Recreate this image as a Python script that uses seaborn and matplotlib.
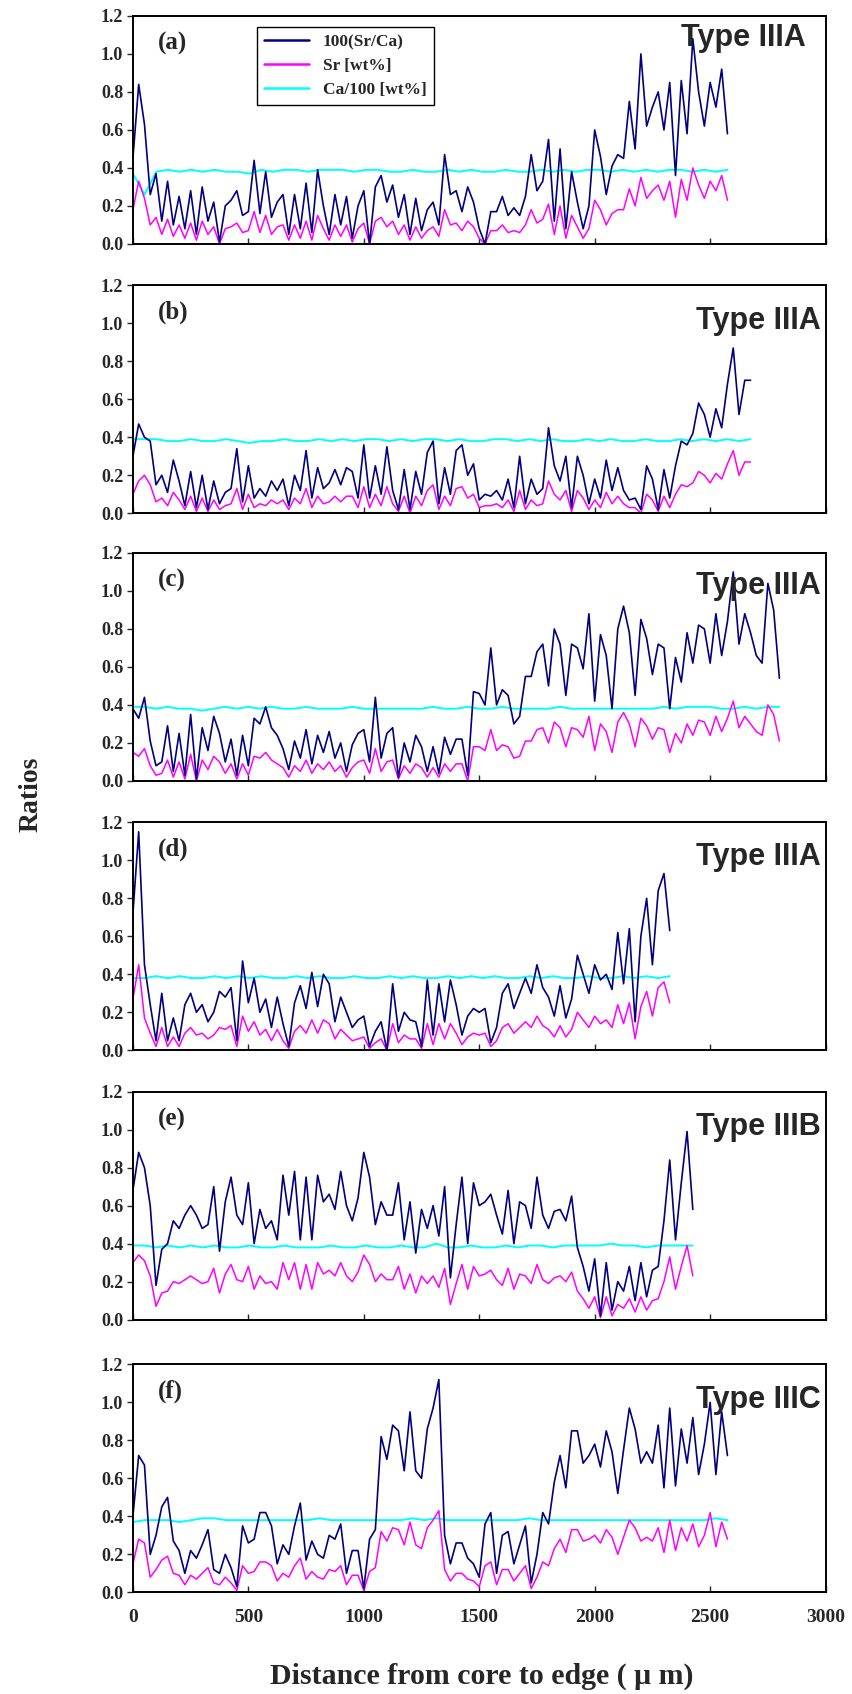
import numpy as np
import matplotlib
matplotlib.use("Agg")
import matplotlib.pyplot as plt
import seaborn as sns

# =========================
# Data, spacing in micrometres
# =========================
step = 25      # spacing of the Sr/Ca and Sr profiles
ca_step = 50   # spacing of the Ca profile

ratio_a = [0.45, 0.84, 0.63, 0.26, 0.37, 0.12, 0.33, 0.10, 0.25, 0.08,
           0.28, 0.05, 0.30, 0.12, 0.22, 0.01, 0.20, 0.23, 0.28, 0.15,
           0.17, 0.44, 0.16, 0.38, 0.14, 0.22, 0.26, 0.05, 0.26, 0.08,
           0.32, 0.06, 0.39, 0.20, 0.05, 0.26, 0.10, 0.25, 0.03, 0.20,
           0.28, 0.00, 0.30, 0.36, 0.22, 0.31, 0.14, 0.26, 0.05, 0.24,
           0.07, 0.18, 0.22, 0.10, 0.47, 0.26, 0.28, 0.17, 0.30, 0.22,
           0.08, 0.00, 0.17, 0.17, 0.25, 0.15, 0.19, 0.15, 0.25, 0.47,
           0.28, 0.33, 0.55, 0.12, 0.50, 0.08, 0.38, 0.22, 0.08, 0.20,
           0.60, 0.46, 0.26, 0.41, 0.47, 0.45, 0.75, 0.50, 1.00, 0.62,
           0.72, 0.80, 0.60, 0.85, 0.36, 0.86, 0.58, 1.08, 0.80, 0.62,
           0.85, 0.72, 0.92, 0.58]
sr_a = [0.18, 0.33, 0.24, 0.10, 0.14, 0.05, 0.13, 0.04, 0.10, 0.03,
        0.11, 0.02, 0.12, 0.05, 0.09, 0.00, 0.08, 0.09, 0.11, 0.06,
        0.07, 0.17, 0.06, 0.15, 0.05, 0.09, 0.10, 0.02, 0.10, 0.03,
        0.12, 0.02, 0.15, 0.08, 0.02, 0.10, 0.04, 0.10, 0.01, 0.08,
        0.11, 0.00, 0.12, 0.14, 0.09, 0.12, 0.05, 0.10, 0.02, 0.09,
        0.03, 0.07, 0.09, 0.04, 0.18, 0.10, 0.11, 0.07, 0.12, 0.09,
        0.03, 0.00, 0.07, 0.07, 0.10, 0.06, 0.07, 0.06, 0.10, 0.18,
        0.11, 0.13, 0.21, 0.05, 0.20, 0.03, 0.15, 0.09, 0.03, 0.08,
        0.23, 0.18, 0.10, 0.16, 0.18, 0.18, 0.29, 0.20, 0.35, 0.24,
        0.28, 0.31, 0.23, 0.33, 0.14, 0.34, 0.23, 0.40, 0.31, 0.24,
        0.33, 0.28, 0.36, 0.23]
ca_a = [0.37, 0.26, 0.38, 0.39, 0.38, 0.39, 0.38, 0.39, 0.38, 0.38,
        0.37, 0.39, 0.38, 0.39, 0.39, 0.38, 0.39, 0.39, 0.39, 0.38,
        0.39, 0.39, 0.38, 0.38, 0.39, 0.38, 0.38, 0.39, 0.38, 0.39,
        0.38, 0.38, 0.39, 0.38, 0.38, 0.39, 0.38, 0.39, 0.38, 0.39,
        0.39, 0.38, 0.39, 0.38, 0.39, 0.38, 0.39, 0.39, 0.38, 0.39,
        0.38, 0.39]

ratio_b = [0.30, 0.47, 0.40, 0.38, 0.15, 0.20, 0.11, 0.28, 0.17, 0.04,
           0.22, 0.03, 0.20, 0.02, 0.17, 0.05, 0.11, 0.13, 0.34, 0.06,
           0.25, 0.08, 0.13, 0.09, 0.17, 0.12, 0.18, 0.04, 0.20, 0.12,
           0.33, 0.08, 0.24, 0.13, 0.16, 0.23, 0.15, 0.24, 0.22, 0.08,
           0.36, 0.08, 0.25, 0.10, 0.35, 0.12, 0.02, 0.23, 0.02, 0.22,
           0.10, 0.32, 0.38, 0.05, 0.24, 0.10, 0.33, 0.36, 0.20, 0.26,
           0.07, 0.10, 0.09, 0.12, 0.07, 0.18, 0.03, 0.30, 0.05, 0.18,
           0.10, 0.13, 0.45, 0.25, 0.17, 0.30, 0.03, 0.30, 0.20, 0.05,
           0.18, 0.08, 0.28, 0.12, 0.24, 0.12, 0.07, 0.08, 0.02, 0.25,
           0.18, 0.02, 0.23, 0.08, 0.25, 0.38, 0.36, 0.42, 0.58, 0.52,
           0.40, 0.55, 0.45, 0.68, 0.87, 0.52, 0.70, 0.70]
sr_b = [0.10, 0.17, 0.20, 0.15, 0.06, 0.08, 0.04, 0.11, 0.07, 0.02,
        0.09, 0.01, 0.08, 0.01, 0.07, 0.02, 0.04, 0.05, 0.13, 0.02,
        0.10, 0.03, 0.05, 0.04, 0.07, 0.05, 0.07, 0.02, 0.08, 0.05,
        0.13, 0.03, 0.09, 0.05, 0.06, 0.09, 0.06, 0.09, 0.09, 0.03,
        0.14, 0.03, 0.10, 0.04, 0.14, 0.05, 0.01, 0.09, 0.00, 0.09,
        0.04, 0.12, 0.15, 0.02, 0.09, 0.04, 0.13, 0.14, 0.08, 0.10,
        0.03, 0.04, 0.04, 0.05, 0.03, 0.07, 0.01, 0.12, 0.02, 0.07,
        0.04, 0.05, 0.17, 0.10, 0.07, 0.12, 0.01, 0.12, 0.08, 0.02,
        0.07, 0.03, 0.11, 0.05, 0.09, 0.05, 0.03, 0.03, 0.00, 0.10,
        0.07, 0.01, 0.09, 0.03, 0.10, 0.15, 0.14, 0.16, 0.22, 0.20,
        0.16, 0.21, 0.18, 0.26, 0.33, 0.20, 0.27, 0.27]
ca_b = [0.39, 0.39, 0.39, 0.38, 0.38, 0.39, 0.38, 0.38, 0.39, 0.38,
        0.37, 0.38, 0.38, 0.39, 0.38, 0.38, 0.39, 0.38, 0.39, 0.38,
        0.39, 0.39, 0.38, 0.39, 0.38, 0.39, 0.39, 0.38, 0.39, 0.38,
        0.38, 0.39, 0.39, 0.38, 0.39, 0.38, 0.39, 0.38, 0.38, 0.39,
        0.38, 0.39, 0.38, 0.38, 0.39, 0.38, 0.38, 0.39, 0.38, 0.39,
        0.38, 0.39, 0.38, 0.39]

ratio_c = [0.38, 0.33, 0.44, 0.21, 0.08, 0.10, 0.29, 0.05, 0.25, 0.03,
           0.35, 0.01, 0.28, 0.16, 0.34, 0.25, 0.10, 0.22, 0.03, 0.24,
           0.08, 0.33, 0.30, 0.39, 0.28, 0.24, 0.17, 0.06, 0.21, 0.12,
           0.27, 0.09, 0.24, 0.15, 0.26, 0.12, 0.20, 0.05, 0.19, 0.25,
           0.27, 0.10, 0.44, 0.12, 0.25, 0.28, 0.02, 0.20, 0.10, 0.24,
           0.18, 0.05, 0.18, 0.04, 0.23, 0.14, 0.22, 0.22, 0.03, 0.47,
           0.46, 0.40, 0.70, 0.40, 0.48, 0.45, 0.30, 0.34, 0.55, 0.55,
           0.68, 0.72, 0.50, 0.80, 0.72, 0.45, 0.72, 0.70, 0.59, 0.88,
           0.42, 0.77, 0.66, 0.38, 0.80, 0.92, 0.78, 0.45, 0.85, 0.75,
           0.56, 0.72, 0.70, 0.38, 0.65, 0.52, 0.78, 0.62, 0.82, 0.80,
           0.62, 0.88, 0.66, 0.84, 1.10, 0.72, 0.88, 0.78, 0.66, 0.62,
           1.04, 0.90, 0.54]
sr_c = [0.15, 0.13, 0.17, 0.08, 0.03, 0.04, 0.11, 0.02, 0.10, 0.01,
        0.14, 0.00, 0.11, 0.06, 0.13, 0.10, 0.04, 0.09, 0.01, 0.09,
        0.03, 0.13, 0.12, 0.15, 0.11, 0.09, 0.07, 0.02, 0.08, 0.05,
        0.11, 0.04, 0.09, 0.06, 0.10, 0.05, 0.08, 0.02, 0.07, 0.10,
        0.11, 0.04, 0.17, 0.05, 0.10, 0.11, 0.01, 0.08, 0.04, 0.09,
        0.07, 0.02, 0.07, 0.02, 0.09, 0.05, 0.09, 0.09, 0.00, 0.18,
        0.18, 0.16, 0.27, 0.16, 0.19, 0.18, 0.12, 0.13, 0.21, 0.21,
        0.27, 0.28, 0.20, 0.31, 0.28, 0.18, 0.28, 0.27, 0.23, 0.34,
        0.16, 0.30, 0.26, 0.15, 0.31, 0.36, 0.30, 0.18, 0.33, 0.29,
        0.22, 0.28, 0.27, 0.15, 0.25, 0.20, 0.30, 0.24, 0.32, 0.31,
        0.24, 0.34, 0.26, 0.33, 0.42, 0.28, 0.34, 0.30, 0.26, 0.24,
        0.40, 0.35, 0.21]
ca_c = [0.39, 0.39, 0.38, 0.39, 0.38, 0.38, 0.37, 0.38, 0.39, 0.38,
        0.39, 0.38, 0.39, 0.38, 0.38, 0.39, 0.38, 0.38, 0.38, 0.39,
        0.38, 0.38, 0.38, 0.38, 0.38, 0.38, 0.39, 0.38, 0.38, 0.39,
        0.38, 0.38, 0.39, 0.38, 0.38, 0.38, 0.38, 0.39, 0.38, 0.38,
        0.38, 0.38, 0.38, 0.38, 0.38, 0.38, 0.39, 0.38, 0.39, 0.39,
        0.39, 0.38, 0.38, 0.39, 0.38, 0.39, 0.39]

ratio_d = [0.72, 1.15, 0.45, 0.24, 0.05, 0.30, 0.05, 0.17, 0.05, 0.24,
           0.30, 0.20, 0.24, 0.15, 0.20, 0.31, 0.28, 0.33, 0.05, 0.47,
           0.25, 0.38, 0.20, 0.27, 0.12, 0.28, 0.14, 0.02, 0.25, 0.34,
           0.22, 0.41, 0.23, 0.40, 0.35, 0.15, 0.28, 0.20, 0.12, 0.16,
           0.18, 0.02, 0.10, 0.15, 0.00, 0.35, 0.10, 0.20, 0.16, 0.15,
           0.02, 0.37, 0.08, 0.35, 0.15, 0.37, 0.24, 0.08, 0.18, 0.22,
           0.20, 0.22, 0.04, 0.12, 0.30, 0.35, 0.22, 0.30, 0.38, 0.30,
           0.45, 0.33, 0.28, 0.18, 0.34, 0.17, 0.27, 0.50, 0.40, 0.30,
           0.45, 0.37, 0.40, 0.32, 0.62, 0.35, 0.64, 0.15, 0.60, 0.80,
           0.45, 0.84, 0.93, 0.63]
sr_d = [0.27, 0.45, 0.17, 0.09, 0.02, 0.12, 0.02, 0.07, 0.02, 0.09,
        0.12, 0.08, 0.09, 0.06, 0.08, 0.12, 0.11, 0.13, 0.02, 0.18,
        0.10, 0.15, 0.08, 0.11, 0.05, 0.11, 0.05, 0.01, 0.10, 0.13,
        0.09, 0.16, 0.09, 0.16, 0.14, 0.06, 0.11, 0.08, 0.05, 0.06,
        0.07, 0.01, 0.04, 0.06, 0.00, 0.14, 0.04, 0.08, 0.06, 0.06,
        0.01, 0.14, 0.03, 0.14, 0.06, 0.14, 0.09, 0.03, 0.07, 0.09,
        0.08, 0.09, 0.02, 0.05, 0.12, 0.14, 0.09, 0.12, 0.15, 0.12,
        0.18, 0.13, 0.11, 0.07, 0.13, 0.07, 0.11, 0.20, 0.16, 0.12,
        0.18, 0.14, 0.16, 0.12, 0.24, 0.14, 0.25, 0.06, 0.23, 0.31,
        0.18, 0.33, 0.36, 0.25]
ca_d = [0.38, 0.38, 0.39, 0.38, 0.39, 0.38, 0.38, 0.39, 0.38, 0.39,
        0.38, 0.39, 0.38, 0.38, 0.39, 0.38, 0.39, 0.38, 0.38, 0.39,
        0.38, 0.38, 0.39, 0.38, 0.39, 0.38, 0.38, 0.39, 0.38, 0.39,
        0.38, 0.39, 0.38, 0.38, 0.39, 0.38, 0.39, 0.38, 0.38, 0.39,
        0.38, 0.38, 0.39, 0.38, 0.39, 0.38, 0.39]

ratio_e = [0.68, 0.88, 0.80, 0.60, 0.18, 0.37, 0.40, 0.52, 0.48, 0.55,
           0.60, 0.55, 0.48, 0.50, 0.70, 0.36, 0.62, 0.75, 0.55, 0.50,
           0.72, 0.40, 0.58, 0.48, 0.52, 0.42, 0.76, 0.55, 0.78, 0.42,
           0.75, 0.42, 0.76, 0.62, 0.66, 0.58, 0.78, 0.60, 0.52, 0.64,
           0.88, 0.75, 0.50, 0.62, 0.55, 0.55, 0.72, 0.42, 0.62, 0.35,
           0.58, 0.48, 0.60, 0.44, 0.70, 0.22, 0.50, 0.75, 0.40, 0.72,
           0.60, 0.62, 0.66, 0.55, 0.45, 0.68, 0.40, 0.62, 0.60, 0.48,
           0.75, 0.55, 0.48, 0.57, 0.58, 0.52, 0.65, 0.38, 0.28, 0.15,
           0.32, 0.02, 0.30, 0.05, 0.20, 0.15, 0.28, 0.10, 0.30, 0.12,
           0.26, 0.28, 0.52, 0.84, 0.42, 0.72, 0.99, 0.58]
sr_e = [0.30, 0.34, 0.31, 0.23, 0.07, 0.14, 0.15, 0.20, 0.19, 0.21,
        0.23, 0.21, 0.19, 0.20, 0.27, 0.14, 0.24, 0.29, 0.21, 0.20,
        0.28, 0.16, 0.23, 0.19, 0.20, 0.16, 0.30, 0.21, 0.30, 0.16,
        0.29, 0.16, 0.30, 0.24, 0.26, 0.23, 0.30, 0.23, 0.20, 0.25,
        0.34, 0.29, 0.20, 0.24, 0.21, 0.21, 0.28, 0.16, 0.24, 0.14,
        0.23, 0.19, 0.23, 0.17, 0.27, 0.08, 0.19, 0.29, 0.16, 0.28,
        0.23, 0.24, 0.26, 0.21, 0.18, 0.27, 0.16, 0.24, 0.23, 0.19,
        0.29, 0.21, 0.19, 0.22, 0.23, 0.20, 0.25, 0.15, 0.11, 0.06,
        0.12, 0.01, 0.12, 0.02, 0.08, 0.06, 0.11, 0.04, 0.12, 0.05,
        0.10, 0.11, 0.20, 0.33, 0.16, 0.28, 0.39, 0.23]
ca_e = [0.39, 0.39, 0.38, 0.39, 0.38, 0.39, 0.38, 0.39, 0.38, 0.38,
        0.39, 0.38, 0.38, 0.39, 0.38, 0.38, 0.38, 0.39, 0.38, 0.38,
        0.39, 0.38, 0.38, 0.39, 0.38, 0.38, 0.40, 0.38, 0.38, 0.39,
        0.38, 0.38, 0.39, 0.38, 0.39, 0.39, 0.38, 0.39, 0.39, 0.39,
        0.39, 0.40, 0.39, 0.39, 0.38, 0.39, 0.39, 0.39, 0.39]

ratio_f = [0.40, 0.72, 0.67, 0.20, 0.30, 0.45, 0.50, 0.27, 0.22, 0.10,
           0.22, 0.18, 0.25, 0.33, 0.12, 0.10, 0.20, 0.13, 0.03, 0.35,
           0.26, 0.28, 0.42, 0.42, 0.35, 0.15, 0.25, 0.20, 0.35, 0.47,
           0.17, 0.27, 0.20, 0.18, 0.30, 0.28, 0.36, 0.10, 0.22, 0.22,
           0.02, 0.28, 0.33, 0.82, 0.70, 0.88, 0.85, 0.64, 0.95, 0.64,
           0.60, 0.86, 0.97, 1.12, 0.30, 0.15, 0.26, 0.26, 0.18, 0.15,
           0.08, 0.36, 0.42, 0.10, 0.30, 0.32, 0.15, 0.25, 0.35, 0.05,
           0.20, 0.42, 0.36, 0.58, 0.72, 0.55, 0.85, 0.85, 0.68, 0.72,
           0.78, 0.66, 0.85, 0.74, 0.52, 0.75, 0.97, 0.86, 0.68, 0.74,
           0.68, 0.88, 0.55, 0.97, 0.56, 0.86, 0.68, 0.92, 0.62, 0.78,
           1.00, 0.62, 0.95, 0.72]
sr_f = [0.15, 0.28, 0.26, 0.08, 0.12, 0.17, 0.19, 0.10, 0.09, 0.04,
        0.09, 0.07, 0.10, 0.13, 0.05, 0.04, 0.08, 0.05, 0.01, 0.14,
        0.10, 0.11, 0.16, 0.16, 0.14, 0.06, 0.10, 0.08, 0.14, 0.18,
        0.07, 0.11, 0.08, 0.07, 0.12, 0.11, 0.14, 0.04, 0.09, 0.09,
        0.01, 0.11, 0.13, 0.32, 0.27, 0.34, 0.33, 0.25, 0.37, 0.25,
        0.23, 0.34, 0.38, 0.43, 0.12, 0.06, 0.10, 0.10, 0.07, 0.06,
        0.03, 0.14, 0.16, 0.04, 0.12, 0.12, 0.06, 0.10, 0.14, 0.02,
        0.08, 0.16, 0.14, 0.23, 0.28, 0.21, 0.33, 0.33, 0.27, 0.28,
        0.30, 0.26, 0.33, 0.29, 0.20, 0.29, 0.38, 0.34, 0.27, 0.29,
        0.27, 0.34, 0.21, 0.38, 0.22, 0.34, 0.27, 0.36, 0.24, 0.30,
        0.42, 0.24, 0.37, 0.28]
ca_f = [0.37, 0.38, 0.38, 0.38, 0.37, 0.38, 0.39, 0.39, 0.38, 0.38,
        0.38, 0.38, 0.38, 0.38, 0.38, 0.38, 0.39, 0.38, 0.38, 0.38,
        0.38, 0.38, 0.38, 0.38, 0.39, 0.38, 0.39, 0.38, 0.38, 0.38,
        0.38, 0.38, 0.38, 0.38, 0.39, 0.38, 0.38, 0.38, 0.38, 0.38,
        0.38, 0.38, 0.38, 0.38, 0.38, 0.38, 0.38, 0.38, 0.38, 0.38,
        0.39, 0.38]

panel_labels = ["(a)", "(b)", "(c)", "(d)", "(e)", "(f)"]
panel_types = ["Type IIIA", "Type IIIA", "Type IIIA", "Type IIIA", "Type IIIB", "Type IIIC"]
series_names = ["100(Sr/Ca)", "Sr [wt%]", "Ca/100 [wt%]"]
x_ticks = [0, 500, 1000, 1500, 2000, 2500, 3000]
y_ticks = [0.0, 0.2, 0.4, 0.6, 0.8, 1.0, 1.2]

panels = [
    (ratio_a, sr_a, ca_a),
    (ratio_b, sr_b, ca_b),
    (ratio_c, sr_c, ca_c),
    (ratio_d, sr_d, ca_d),
    (ratio_e, sr_e, ca_e),
    (ratio_f, sr_f, ca_f),
]

# =========================
# Style
# =========================
sns.set_style("ticks")
plt.rcParams["font.family"] = ["Liberation Serif", "DejaVu Serif"]
plt.rcParams["font.weight"] = "bold"

colores = ["#000080", "#FF00FF", "#00FFFF"]
grosores = [1.2, 1.1, 1.4]
orden_z = [2.3, 2.2, 2.1]

fig = plt.figure(figsize=(8.52, 16.94), dpi=100)
left, width, height = 0.156, 0.813, 0.1346
bottoms = [0.856, 0.697, 0.539, 0.380, 0.221, 0.060]
type_tops = [0.97, 0.91, 0.92, 0.915, 0.91, 0.91]
type_right = [0.972, 0.993, 0.993, 0.993, 0.993, 0.993]

for i, (ratio, sr, ca) in enumerate(panels):
    ax = fig.add_axes([left, bottoms[i], width, height])

    x_ratio = np.arange(len(ratio)) * step
    x_sr = np.arange(len(sr)) * step
    x_ca = np.linspace(0, x_ratio[-1], len(ca))

    for vals, xs, name, c, lw, z in zip((ratio, sr, ca), (x_ratio, x_sr, x_ca),
                                        series_names, colores, grosores, orden_z):
        sns.lineplot(x=xs, y=vals, ax=ax, color=c, linewidth=lw, zorder=z,
                     estimator=None, sort=False, legend=False,
                     label=name if i == 0 else None)

    ax.set_xlim(0, 3000)
    ax.set_ylim(0, 1.2)
    ax.set_xticks(x_ticks)
    ax.set_yticks(y_ticks)
    ax.set_yticklabels([f"{v:.1f}" for v in y_ticks], fontsize=13, fontweight="bold")
    if i == len(panels) - 1:
        ax.set_xticklabels([str(v) for v in x_ticks], fontsize=14, fontweight="bold")
        ax.tick_params(axis="x", pad=12)
    else:
        ax.tick_params(axis="x", labelbottom=False)
    ax.tick_params(axis="x", direction="in", length=4, width=1)
    ax.tick_params(axis="y", direction="out", length=4, width=1, pad=3)
    ax.set_xlabel("")
    ax.set_ylabel("")
    for s in ax.spines.values():
        s.set_linewidth(1.4)
        s.set_color("black")

    ax.text(0.036, 0.88, panel_labels[i], transform=ax.transAxes, fontsize=18,
            fontweight="bold", va="center", ha="left")
    ax.text(type_right[i], type_tops[i], panel_types[i], transform=ax.transAxes,
            fontsize=22, fontweight="bold", family=["Liberation Sans", "DejaVu Sans"],
            va="top", ha="right", zorder=5)

    if i == 0:
        leg = ax.legend(loc="upper left", bbox_to_anchor=(0.179, 0.952),
                        borderaxespad=0, fancybox=False, framealpha=1,
                        edgecolor="black", handlelength=2.6, labelspacing=0.45,
                        prop={"family": "Liberation Serif", "weight": "bold", "size": 12.5})
        leg.get_frame().set_linewidth(1.0)
        for h in leg.get_lines():
            h.set_linewidth(1.8)

fig.text(0.037, 0.531, "Ratios", rotation=90, fontsize=20, fontweight="bold",
         va="center", ha="center")
fig.text(0.566, 0.0106, "Distance from core to edge ( \u03bc m)", fontsize=21.5,
         fontweight="bold", va="center", ha="center")

plt.savefig("out.png", dpi=100)
plt.close()
